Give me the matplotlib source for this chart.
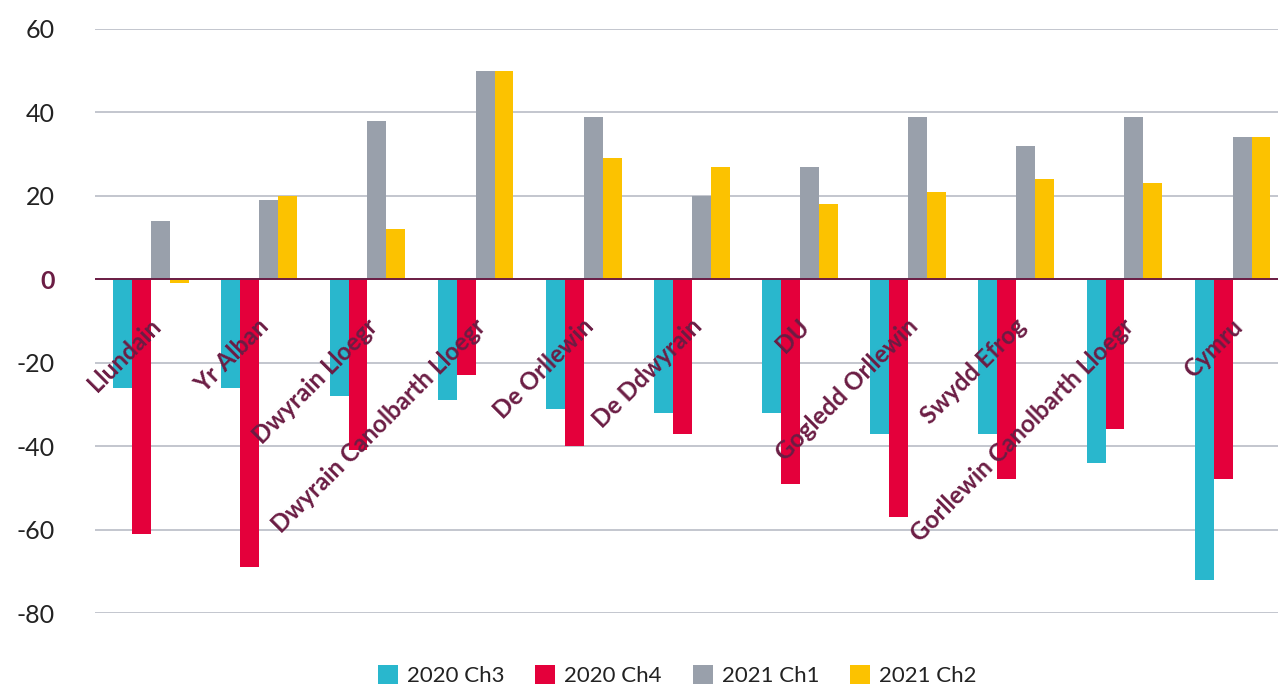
import matplotlib.pyplot as plt
from matplotlib.transforms import ScaledTranslation
import numpy as np

regions = ["Llundain", "Yr Alban", "Dwyrain Lloegr", "Dwyrain Canolbarth Lloegr",
           "De Orllewin", "De Ddwyrain", "DU", "Gogledd Orllewin", "Swydd Efrog",
           "Gorllewin Canolbarth Lloegr", "Cymru"]
q3_2020 = [-26, -26, -28, -29, -31, -32, -32, -37, -37, -44, -72]
q4_2020 = [-61, -69, -41, -23, -40, -37, -49, -57, -48, -36, -48]
q1_2021 = [14, 19, 38, 50, 39, 20, 27, 39, 32, 39, 34]
q2_2021 = [-1, 20, 12, 50, 29, 27, 18, 21, 24, 23, 34]
series_names = ["2020 Ch3", "2020 Ch4", "2021 Ch1", "2021 Ch2"]
colors = ["#29b7cd", "#e4003b", "#99a0ab", "#fcc200"]
yticks = [-80, -60, -40, -20, 0, 20, 40, 60]

maroon = "#6b1d44"
textcol = "#222222"

fig = plt.figure(figsize=(12.78, 6.88), dpi=100)
ax = fig.add_axes([0.0743, 0.109, 0.9257, 0.849])

x = np.arange(len(regions))
w = 0.175
allvals = [q3_2020, q4_2020, q1_2021, q2_2021]
for i, vals in enumerate(allvals):
    ax.bar(x + (i - 1.5) * w, vals, width=w, color=colors[i], label=series_names[i], zorder=3)

ax.set_ylim(-80, 60)
ax.set_xlim(-0.52, 10.42)
ax.set_yticks(yticks)
ax.set_yticklabels([str(t) for t in yticks], fontsize=18, color=textcol, family="Lato")
lift = ScaledTranslation(0, 5 / 100, fig.dpi_scale_trans)
for lab in ax.get_yticklabels():
    lab.set_transform(lab.get_transform() + lift)
    if lab.get_text() == "0":
        lab.set_color(maroon)
        lab.set_fontweight("bold")
ax.tick_params(axis="y", length=0, pad=29)
ax.set_xticks([])
for s in ax.spines.values():
    s.set_visible(False)
ax.grid(axis="y", color="#c3c6ce", linewidth=1.4, zorder=0)
ax.axhline(0, color=maroon, linewidth=1.4, zorder=4)

for xi, name in zip(x, regions):
    ax.text(xi - 0.02, -8.5, name, rotation=45, ha="right", va="top",
            rotation_mode="anchor", fontsize=17.5, fontweight="bold",
            color=maroon, family="Lato", zorder=5)

leg = fig.legend(loc="center", bbox_to_anchor=(0.53, 0.018), ncol=4, frameon=False,
                 handlelength=0.9, handleheight=0.9, handletextpad=0.4,
                 columnspacing=1.4, labelcolor=textcol,
                 prop={"family": "Lato", "size": 16})

fig.savefig("out.png", dpi=100)
